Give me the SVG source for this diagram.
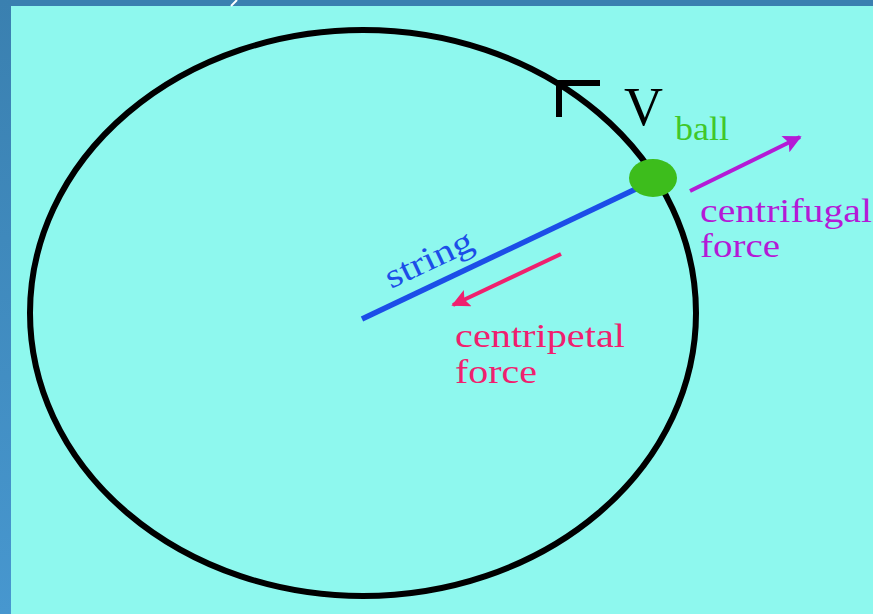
<svg xmlns="http://www.w3.org/2000/svg" width="873" height="614" viewBox="0 0 873 614">
<defs>
<linearGradient id="leftBar" x1="0" y1="0" x2="0" y2="1">
<stop offset="0" stop-color="#3a80b0"/>
<stop offset="1" stop-color="#4797cf"/>
</linearGradient>
<marker id="headPurple" viewBox="0 0 10 10" refX="9" refY="5" markerWidth="6" markerHeight="4.5" orient="auto" markerUnits="strokeWidth">
<path d="M0,0 L10,5 L0,10 L2,5 Z" fill="#b41ad6"/>
</marker>
<marker id="headPink" viewBox="0 0 10 10" refX="9" refY="5" markerWidth="6" markerHeight="4.5" orient="auto" markerUnits="strokeWidth">
<path d="M0,0 L10,5 L0,10 L2,5 Z" fill="#f0206e"/>
</marker>
</defs>
<style>
.lbl{font-family:"Liberation Serif","Times New Roman",serif;}
.fuge{fill:#b41ad6;font-size:34px;}
.peta{fill:#f0206e;font-size:34px;}
</style>
<rect x="0" y="0" width="873" height="614" fill="#8ef8ee"/>
<rect x="0" y="0" width="873" height="6" fill="#3a80b0"/>
<rect x="0" y="0" width="11" height="614" fill="url(#leftBar)"/>
<line x1="237" y1="0" x2="231" y2="6" stroke="#ffffff" stroke-width="2"/>

<g id="orbit">
<ellipse cx="363" cy="313" rx="333" ry="283" fill="none" stroke="#000000" stroke-width="6"/>
</g>

<g id="connectors">
<line id="string-line" x1="362" y1="319" x2="640" y2="187" stroke="#1c4ee8" stroke-width="5.5"/>
<polyline id="velocity-arrow" points="600,83 559,83 559,117" fill="none" stroke="#000000" stroke-width="6"/>
<line id="centrifugal-arrow" x1="690" y1="191" x2="800" y2="137" stroke="#b41ad6" stroke-width="4" marker-end="url(#headPurple)"/>
<line id="centripetal-arrow" x1="561" y1="254" x2="453" y2="305" stroke="#f0206e" stroke-width="4" marker-end="url(#headPink)"/>
</g>

<g id="ball">
<ellipse cx="653" cy="178" rx="24" ry="19" fill="#3dbd1c"/>
<text class="lbl" x="675" y="140" font-size="34" fill="#40c82a" textLength="54" lengthAdjust="spacingAndGlyphs">ball</text>
</g>

<g id="velocity">
<text class="lbl" x="624" y="125" font-size="54" fill="#000000">V</text>
</g>

<g id="string">
<text class="lbl" transform="translate(391,289) rotate(-25.4)" font-size="34" fill="#1c4ee8" textLength="94" lengthAdjust="spacingAndGlyphs">string</text>
</g>

<g id="centrifugal">
<text class="lbl fuge" x="700" y="222" textLength="172" lengthAdjust="spacingAndGlyphs">centrifugal</text>
<text class="lbl fuge" x="700" y="257" textLength="80" lengthAdjust="spacingAndGlyphs">force</text>
</g>

<g id="centripetal">
<text class="lbl peta" x="455" y="347" textLength="170" lengthAdjust="spacingAndGlyphs">centripetal</text>
<text class="lbl peta" x="455" y="383" textLength="82" lengthAdjust="spacingAndGlyphs">force</text>
</g>
</svg>
